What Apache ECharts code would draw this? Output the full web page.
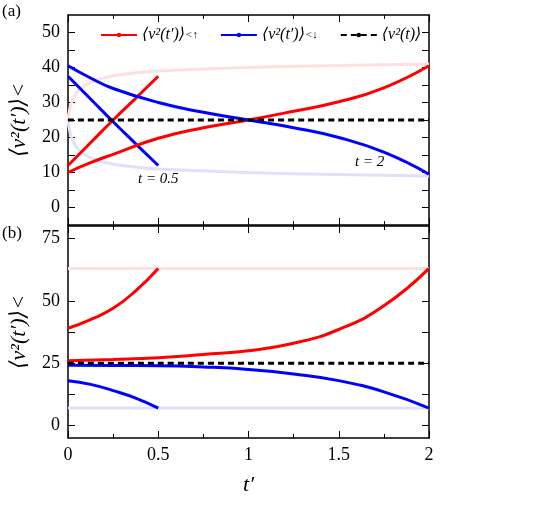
<!DOCTYPE html>
<html>
<head>
<meta charset="utf-8">
<script src="https://cdn.jsdelivr.net/npm/echarts@6/dist/echarts.min.js"></script>
<style>body{margin:0}#c{width:556px;height:532px}</style>
</head>
<body>
<div id="c"></div>
<script>
// panel (a)
const aUpShort = [[0, 12], [0.125, 18.5], [0.25, 25], [0.375, 31.2], [0.5, 37.5]]
const aDownShort = [[0, 37.5], [0.125, 31], [0.25, 24.5], [0.375, 18.2], [0.5, 12]]
const aUpLong = [[0, 10], [0.125, 12.8], [0.25, 15.2], [0.5, 19.8], [0.75, 22.8], [1, 25], [1.25, 27.5], [1.5, 30.2], [1.75, 34.2], [2, 40.5]]
const aDownLong = [[0, 40.5], [0.125, 37], [0.25, 34], [0.5, 30], [0.75, 27.2], [1, 25], [1.25, 22.8], [1.5, 20], [1.75, 15.8], [2, 9.5]]
const aUpFaded = [[0, 25], [0.02, 30], [0.06, 33.5], [0.15, 36.3], [0.3, 38], [0.5, 39], [1, 40], [1.5, 40.6], [2, 41]]
const aDownFaded = [[0, 25], [0.02, 20], [0.06, 16.5], [0.15, 13.7], [0.3, 12], [0.5, 11], [1, 10], [1.5, 9.4], [2, 9]]
// panel (b)
const bUpShort = [[0, 39], [0.125, 42.5], [0.25, 47], [0.375, 54], [0.5, 63]]
const bDownShort = [[0, 18], [0.125, 16.5], [0.25, 14], [0.375, 11], [0.5, 7]]
const bUpLong = [[0, 26], [0.25, 26.5], [0.5, 27.2], [0.75, 28.5], [1, 30], [1.25, 33], [1.5, 38.5], [1.75, 48], [2, 63]]
const bDownLong = [[0, 24.2], [0.25, 24.1], [0.5, 24], [0.75, 23.5], [1, 22.5], [1.25, 20.7], [1.5, 18], [1.75, 13.5], [2, 7]]
const bUpLevel = 63
const bDownLevel = 7
const meanLevel = 25
const xTicks = [0, 0.5, 1, 1.5, 2]
const aTicks = [0, 5, 10, 15, 20, 25, 30, 35, 40, 45, 50]
const aLabels = [0, 10, 20, 30, 40, 50]
const bTicks = [0, 12.5, 25, 37.5, 50, 62.5, 75]
const bLabels = [0, 25, 50, 75]

const RED = '#ff0000'
const BLUE = '#0000ff'
const FONT = '"Liberation Serif", "DejaVu Serif", serif'

const line = (name, data, color, gi, extra) => Object.assign({
  name, type: 'line', data, xAxisIndex: gi, yAxisIndex: gi, smooth: true,
  showSymbol: false, lineStyle: { color, width: 3 }, itemStyle: { color }, z: 3
}, extra || {})
const flat = (y) => [[0, y], [2, y]]

const xAxisBase = (gi, showLabels, pos) => ({
  type: 'value', gridIndex: gi, min: 0, max: 2, interval: 0.5, position: pos,
  axisLine: { onZero: false, lineStyle: { color: '#000', width: 1.5 } },
  axisTick: { inside: true, length: 7, lineStyle: { color: '#000' } },
  minorTick: { show: true, splitNumber: 2, length: 4, lineStyle: { color: '#000' } },
  splitLine: { show: false },
  axisLabel: { show: showLabels, color: '#000', fontFamily: FONT, fontSize: 18, margin: 8 }
})
const yAxisBase = (gi, min, max, ticks, labels, pos) => ({
  type: 'value', gridIndex: gi, min, max, position: pos,
  axisLine: { show: true, onZero: false, lineStyle: { color: '#000', width: 1.5 } },
  axisTick: { show: true, inside: true, length: 7, customValues: ticks, lineStyle: { color: '#000' } },
  splitLine: { show: false },
  axisLabel: { show: pos === 'left', customValues: labels, color: '#000', fontFamily: FONT, fontSize: 18, margin: 8 }
})

const yName = {
  name: '⟨v²(t′)⟩<', nameLocation: 'middle', nameGap: 38,
  nameTextStyle: { fontFamily: FONT, fontSize: 22, fontStyle: 'italic', color: '#000' }
}
const dashed = { color: '#000', width: 3, type: [6, 4] }

const chart = echarts.init(document.getElementById('c'))
chart.setOption({
  animation: false,
  grid: [
    { left: 67, width: 362, top: 15, height: 210 },
    { left: 67, width: 362, top: 226, height: 212 }
  ],
  legend: {
    top: 22, left: 95, itemGap: 22, itemWidth: 36, itemHeight: 3,
    data: ['up', 'down', 'mean'],
    formatter: n => ({ up: '{m|⟨v²(t′)⟩}{s|<↑}', down: '{m|⟨v²(t′)⟩}{s|<↓}', mean: '{m|⟨v²(t)⟩}' })[n],
    textStyle: {
      fontFamily: FONT, fontSize: 16, fontStyle: 'italic', color: '#000',
      rich: { m: { fontFamily: FONT, fontSize: 16, fontStyle: 'italic' }, s: { fontSize: 11, fontFamily: FONT } }
    }
  },
  xAxis: [
    xAxisBase(0, false, 'bottom'),
    Object.assign(xAxisBase(1, true, 'bottom'), {
      name: 't′', nameLocation: 'middle', nameGap: 36,
      nameTextStyle: { fontFamily: FONT, fontSize: 22, fontStyle: 'italic', color: '#000' }
    }),
    xAxisBase(0, false, 'top'),
    xAxisBase(1, false, 'top')
  ],
  yAxis: [
    Object.assign(yAxisBase(0, -5, 55, aTicks, aLabels, 'left'), yName),
    Object.assign(yAxisBase(1, -5, 80, bTicks, bLabels, 'left'), yName),
    yAxisBase(0, -5, 55, aTicks, aLabels, 'right'),
    yAxisBase(1, -5, 80, bTicks, bLabels, 'right')
  ],
  series: [
    line('', aUpFaded, '#fde0e0', 0, { z: 1, smooth: 0.4 }),
    line('', aDownFaded, '#e0e0fd', 0, { z: 1, smooth: 0.4 }),
    line('up', aUpShort, RED, 0),
    line('down', aDownShort, BLUE, 0),
    line('up', aUpLong, RED, 0),
    line('down', aDownLong, BLUE, 0),
    line('mean', flat(meanLevel), '#000', 0, { lineStyle: dashed, z: 4 }),
    line('', flat(bUpLevel), '#fde0e0', 1, { z: 1 }),
    line('', flat(bDownLevel), '#e0e0fd', 1, { z: 1 }),
    line('up', bUpShort, RED, 1),
    line('down', bDownShort, BLUE, 1),
    line('up', bUpLong, RED, 1),
    line('down', bDownLong, BLUE, 1),
    line('mean', flat(meanLevel), '#000', 1, { lineStyle: dashed, z: 4 })
  ],
  graphic: [
    { type: 'text', left: 2, top: 3, style: { text: '(a)', font: '17px "Liberation Serif", serif', fill: '#000' } },
    { type: 'text', left: 2, top: 225, style: { text: '(b)', font: '17px "Liberation Serif", serif', fill: '#000' } },
    { type: 'text', left: 138, top: 172, style: { text: 't = 0.5', font: 'italic 15px "Liberation Serif", serif', fill: '#000' } },
    { type: 'text', left: 355, top: 155, style: { text: 't = 2', font: 'italic 15px "Liberation Serif", serif', fill: '#000' } }
  ]
})
</script>
</body>
</html>
